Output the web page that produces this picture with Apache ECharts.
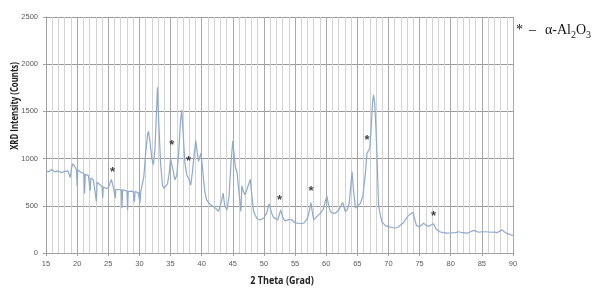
<!DOCTYPE html>
<html>
<head>
<meta charset="utf-8">
<script src="https://cdn.jsdelivr.net/npm/echarts@6/dist/echarts.min.js"></script>
<style>
  html, body { margin: 0; padding: 0; background: #fff; }
  #chart { width: 595px; height: 288px; }
</style>
</head>
<body>
<div id="chart"></div>
<script>
// 2 theta (deg) and intensity (counts)
var theta = [
  15.0, 15.4, 15.9, 16.4, 16.9, 17.5, 18.0, 18.5, 18.9, 19.0, 19.1, 19.3, 19.6, 19.9, 20.0, 20.1,
  20.5, 20.8, 21.1, 21.2, 21.3, 21.8, 22.0, 22.1, 22.2, 22.6, 22.9, 23.1, 23.2, 23.5, 24.0, 24.1,
  24.2, 24.6, 25.0, 25.2, 25.5, 25.8, 26.1, 26.15, 26.2, 26.6, 27.1, 27.2, 27.3, 27.6, 28.0, 28.1,
  28.2, 28.6, 29.0, 29.2, 29.3, 29.8, 30.1, 30.2, 30.4, 30.7, 31.0, 31.3, 31.45, 31.7, 32.0, 32.25,
  32.5, 32.75, 32.9, 33.1, 33.4, 33.7, 33.9, 34.2, 34.5, 34.8, 35.0, 35.2, 35.4, 35.7, 36.0, 36.3,
  36.6, 36.8, 37.0, 37.3, 37.6, 37.9, 38.25, 38.5, 38.8, 39.05, 39.3, 39.5, 39.9, 40.2, 40.5, 40.8,
  41.3, 41.9, 42.3, 42.7, 43.0, 43.2, 43.45, 43.7, 44.05, 44.4, 44.7, 45.0, 45.2, 45.4, 45.7, 45.9,
  46.1, 46.3, 46.45, 46.7, 47.0, 47.4, 47.8, 48.0, 48.3, 48.6, 48.9, 49.4, 50.0, 50.4, 50.85, 51.2,
  51.5, 52.2, 52.7, 53.0, 53.4, 54.0, 54.5, 55.0, 55.5, 56.0, 56.5, 57.0, 57.3, 57.55, 57.8, 58.0,
  58.4, 58.7, 59.05, 59.5, 60.1, 60.4, 60.65, 61.0, 61.45, 62.0, 62.65, 63.07, 63.4, 63.7, 64.15, 64.4,
  64.7, 65.0, 65.5, 65.9, 66.3, 66.55, 67.0, 67.2, 67.45, 67.6, 67.8, 68.0, 68.2, 68.4, 68.7, 68.95,
  69.5, 70.0, 70.5, 71.0, 71.5, 71.9, 72.4, 72.7, 73.25, 73.6, 73.95, 74.2, 74.5, 75.0, 75.3, 75.65,
  76.0, 76.45, 76.9, 77.25, 77.6, 78.2, 78.8, 79.4, 80.0, 80.7, 81.3, 81.8, 82.7, 83.2, 83.7, 84.5,
  85.0, 85.6, 86.4, 87.0, 87.4, 88.25, 88.6, 89.0, 89.5, 90.0
];
var counts = [
  870, 860, 885, 860, 870, 850, 865, 870, 800, 790, 900, 945, 920, 880, 710, 880,
  860, 850, 840, 630, 835, 820, 800, 660, 795, 775, 755, 545, 750, 730, 705, 580,
  700, 685, 690, 710, 780, 700, 680, 580, 675, 670, 670, 475, 670, 680, 655, 455,
  650, 655, 650, 540, 650, 640, 530, 645, 660, 800, 1050, 1250, 1290, 1180, 1000, 935,
  1100, 1500, 1755, 1400, 950, 720, 685, 700, 730, 850, 1000, 1015, 880, 775, 820, 1050,
  1400, 1515, 1300, 960, 830, 790, 720, 850, 1050, 1190, 1060, 970, 1060, 850, 650, 560,
  520, 490, 470, 440, 455, 550, 635, 500, 455, 600, 950, 1185, 1050, 915, 845, 705,
  700, 440, 710, 650, 615, 700, 780, 650, 455, 400, 365, 350, 370, 420, 520, 430,
  380, 350, 455, 380, 340, 355, 350, 320, 315, 310, 320, 370, 450, 535, 420, 350,
  380, 375, 420, 460, 605, 500, 440, 425, 420, 455, 535, 440, 460, 530, 860, 650,
  475, 500, 525, 610, 845, 1055, 1110, 1300, 1600, 1675, 1580, 1300, 950, 510, 400, 330,
  290, 280, 270, 265, 270, 295, 320, 350, 400, 415, 430, 360, 290, 280, 300, 315,
  295, 280, 300, 310, 260, 225, 215, 210, 212, 215, 225, 215, 210, 225, 240, 220,
  225, 225, 220, 222, 215, 245, 225, 210, 195, 185
];

// alpha-Al2O3 peak markers
var starTheta = [25.7, 35.2, 37.9, 52.5, 57.55, 66.55, 77.25];
var starCounts = [897, 1180, 1013, 596, 696, 1239, 427];

var xMin = 15, xMax = 90, xStep = 5;
var yMin = 0, yMax = 2500, yStep = 500;

// lay out "* – α-Al2O3" with real subscripts
var ctx = document.createElement('canvas').getContext('2d');
function textWidth(s, font) { ctx.font = font; return ctx.measureText(s).width; }
var bigFont = '14px "Liberation Serif"';
var subFont = '10px "Liberation Serif"';
var legendParts = [
  { t: 'α-Al', sub: false },
  { t: '2', sub: true },
  { t: 'O', sub: false },
  { t: '3', sub: true }
];
var legendGraphics = [
  { type: 'text', x: 516, y: 30, style: { text: '*', fill: '#111', font: bigFont, textVerticalAlign: 'middle' } },
  { type: 'text', x: 529, y: 30, style: { text: '–', fill: '#111', font: bigFont, textVerticalAlign: 'middle' } }
];
var cx = 545;
legendParts.forEach(function (p) {
  var f = p.sub ? subFont : bigFont;
  legendGraphics.push({
    type: 'text', x: cx, y: p.sub ? 35 : 30,
    style: { text: p.t, fill: '#111', font: f, textVerticalAlign: 'middle' }
  });
  cx += textWidth(p.t, f);
});

var chart = echarts.init(document.getElementById('chart'));

var option = {
  animation: false,
  backgroundColor: '#fff',
  grid: { left: 46, right: 82, top: 17, bottom: 35 },
  xAxis: {
    type: 'value',
    min: xMin, max: xMax, interval: xStep,
    axisLine: { show: true, lineStyle: { color: '#a0a0a0', width: 1 } },
    axisTick: { show: true, length: 3, lineStyle: { color: '#a0a0a0' } },
    minorTick: { show: false, splitNumber: 5 },
    axisLabel: { color: '#595959', fontSize: 7.5, margin: 7, fontFamily: 'Liberation Sans' },
    splitLine: { show: true, lineStyle: { color: '#a8a8a8', width: 1 } },
    minorSplitLine: { show: true, lineStyle: { color: '#d2d2d2', width: 1 } }
  },
  yAxis: {
    type: 'value',
    min: yMin, max: yMax, interval: yStep,
    axisLine: { show: true, lineStyle: { color: '#a0a0a0', width: 1 } },
    axisTick: { show: true, length: 3, lineStyle: { color: '#a0a0a0' } },
    axisLabel: {
      color: '#595959', fontSize: 7.5, margin: 8, fontFamily: 'Liberation Sans',
      formatter: function (v) { return String(v); }
    },
    splitLine: { show: true, lineStyle: { color: '#9a9a9a', width: 1 } }
  },
  series: [
    {
      type: 'line',
      data: theta.map(function (t, i) { return [t, counts[i]]; }),
      symbol: 'none',
      lineStyle: { color: '#8ea9cc', width: 1.2 },
      z: 3
    },
    {
      type: 'scatter',
      data: starTheta.map(function (t, i) { return [t, starCounts[i]]; }),
      symbolSize: 0,
      label: {
        show: true,
        position: 'inside',
        formatter: '*',
        color: '#111',
        fontSize: 13,
        fontWeight: 'bold',
        fontFamily: 'Liberation Sans',
        offset: [0, 4]
      },
      z: 4
    }
  ],
  graphic: [
    {
      type: 'text',
      x: 15, y: 106,
      rotation: Math.PI / 2,
      scaleX: 0.78,
      style: {
        text: 'XRD Intensity (Counts)',
        fill: '#222',
        font: 'bold 10px "Open Sans", "Liberation Sans"',
        textAlign: 'center',
        textVerticalAlign: 'middle'
      }
    },
    {
      type: 'text',
      x: 282, y: 281,
      scaleX: 0.9,
      style: {
        text: '2 Theta (Grad)',
        fill: '#222',
        font: 'bold 10px "Open Sans", "Liberation Sans"',
        textAlign: 'center',
        textVerticalAlign: 'middle'
      }
    }
  ].concat(legendGraphics)
};

chart.setOption(option);
</script>
</body>
</html>
